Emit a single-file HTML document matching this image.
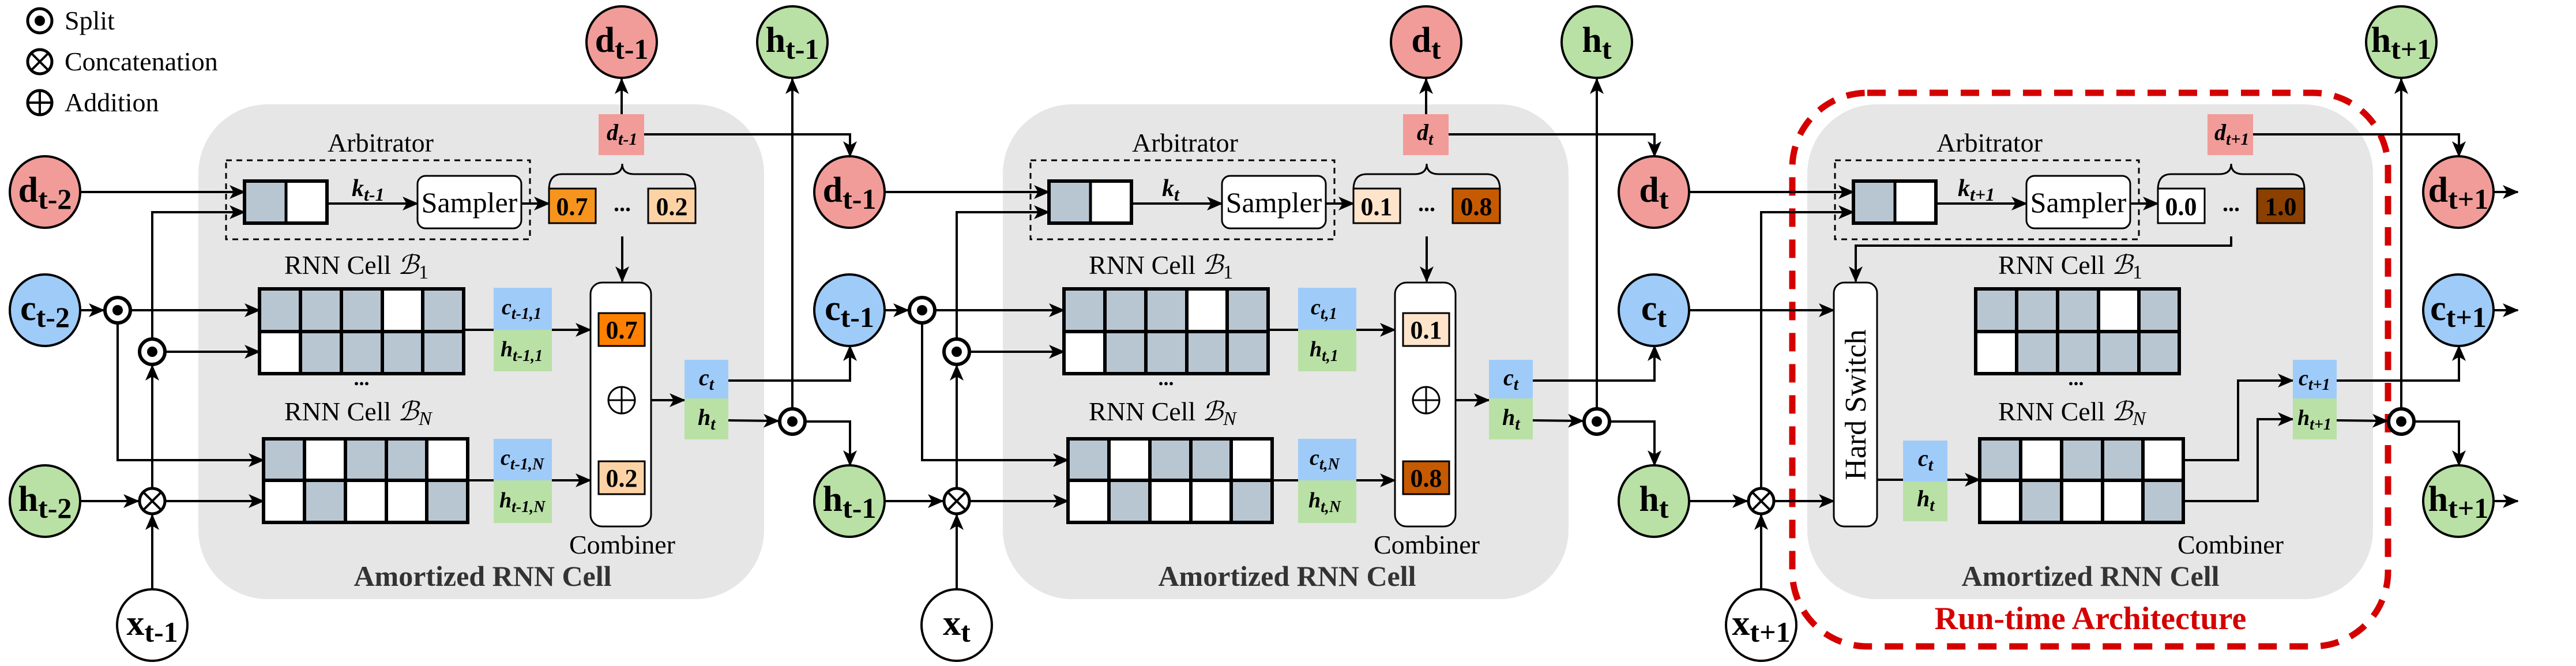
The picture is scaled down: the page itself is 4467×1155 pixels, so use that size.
<!DOCTYPE html>
<html><head><meta charset="utf-8"><style>
html,body{margin:0;padding:0;background:#fff;}
svg{display:block;}
svg, svg text, svg tspan{font-family:"Liberation Serif","DejaVu Serif",serif;}
</style></head><body>
<svg width="4467" height="1155" viewBox="0 0 4467 1155" xmlns="http://www.w3.org/2000/svg" font-family="Liberation Serif, DejaVu Serif, serif">
<defs>
<marker id="a" markerUnits="userSpaceOnUse" markerWidth="28" markerHeight="24" refX="26" refY="12" orient="auto">
<path d="M0,0 L28,12 L0,24 L7,12 z" fill="#000"/></marker>
</defs>
<g fill="none" stroke="#000" stroke-width="4">
<rect x="344" y="181" width="981" height="858" rx="120" fill="#e6e6e6" stroke="none"/>
<rect x="1739" y="181" width="981" height="858" rx="120" fill="#e6e6e6" stroke="none"/>
<rect x="3134" y="181" width="981" height="858" rx="120" fill="#e6e6e6" stroke="none"/>
<rect x="3108" y="161" width="1033" height="960" rx="130" stroke="#d40000" stroke-width="11" stroke-dasharray="32 22"/>
</g>

<g stroke="#000" stroke-width="5" fill="#fff">
<circle cx="69" cy="36" r="21"/><circle cx="69" cy="36" r="9" fill="#000" stroke="none"/>
<circle cx="69" cy="107" r="21"/><path d="M54,92 L84,122 M84,92 L54,122" stroke-width="4"/>
<circle cx="69" cy="178" r="21"/><path d="M48,178 L90,178 M69,157 L69,199" stroke-width="4"/>
</g>
<g font-size="46" fill="#000">
<text x="112" y="51">Split</text>
<text x="112" y="122">Concatenation</text>
<text x="112" y="193">Addition</text>
</g>

<!-- PANEL 1 -->
<g>
<g fill="none" stroke="#000" stroke-width="4">
<rect x="392" y="278" width="527" height="137" stroke-width="3" stroke-dasharray="10 8"/>
<line x1="567" y1="353" x2="724" y2="353" marker-end="url(#a)"/>
<line x1="904" y1="353" x2="952" y2="353" marker-end="url(#a)"/>
<path d="M952,329 Q952,302 975,302 L1058,302 Q1079,302 1079,284 Q1079,302 1100,302 L1183,302 Q1206,302 1206,329" stroke-width="3"/>
<line x1="1078" y1="198" x2="1078" y2="137" marker-end="url(#a)"/>
<polyline points="1117,233 1474,233 1474,271" marker-end="url(#a)"/>
<line x1="1374" y1="707" x2="1374" y2="137" marker-end="url(#a)"/>
<line x1="1079" y1="410" x2="1079" y2="488" marker-end="url(#a)"/>
<line x1="804" y1="572" x2="1024" y2="572" marker-end="url(#a)"/>
<line x1="811" y1="833" x2="1024" y2="833" marker-end="url(#a)"/>
<line x1="1078" y1="600" x2="1078" y2="671" marker-end="url(#a)"/>
<line x1="1078" y1="800" x2="1078" y2="717" marker-end="url(#a)"/>
<line x1="1101" y1="694" x2="1187" y2="694" marker-end="url(#a)"/>
<polyline points="1263,660 1474,660 1474,600" marker-end="url(#a)"/>
<line x1="1263" y1="729" x2="1350" y2="730" marker-end="url(#a)"/>
<polyline points="1398,731 1474,731 1474,807" marker-end="url(#a)"/>
<line x1="139" y1="333" x2="424" y2="333" marker-end="url(#a)"/>
<line x1="139" y1="538" x2="180" y2="538" marker-end="url(#a)"/>
<line x1="228" y1="538" x2="450" y2="538" marker-end="url(#a)"/>
<polyline points="204,562 204,798 457,798" marker-end="url(#a)"/>
<line x1="139" y1="869" x2="240" y2="869" marker-end="url(#a)"/>
<line x1="288" y1="869" x2="457" y2="869" marker-end="url(#a)"/>
<line x1="264" y1="1022" x2="264" y2="893" marker-end="url(#a)"/>
<line x1="264" y1="845" x2="264" y2="634" marker-end="url(#a)"/>
<line x1="288" y1="610" x2="450" y2="610" marker-end="url(#a)"/>
<polyline points="264,586 264,368 424,368" marker-end="url(#a)"/>
</g>
<rect x="424" y="314" width="72" height="73" fill="#b8c6d2"/>
<rect x="496" y="314" width="71" height="73" fill="#fff"/>
<rect x="424" y="314" width="143" height="73" fill="none" stroke="#000" stroke-width="6"/>
<line x1="496" y1="314" x2="496" y2="387" stroke="#000" stroke-width="5"/>
<rect x="724" y="305" width="180" height="91" rx="14" fill="#fff" stroke="#000" stroke-width="3"/>
<text x="814" y="368" font-size="50" text-anchor="middle">Sampler</text>
<text x="660" y="263" font-size="46" text-anchor="middle">Arbitrator</text>
<text x="610" y="340" font-size="42" font-style="italic" font-weight="bold">k<tspan font-size="32" dy="8">t-1</tspan></text>
<rect x="952" y="327" width="81" height="60" fill="#f7941d" stroke="#000" stroke-width="3"/>
<text x="992" y="373" font-size="44" font-weight="bold" text-anchor="middle">0.7</text>
<text x="1079" y="366" font-size="40" font-weight="bold" text-anchor="middle">...</text>
<rect x="1124" y="327" width="82" height="60" fill="#fdd3a6" stroke="#000" stroke-width="3"/>
<text x="1165" y="373" font-size="44" font-weight="bold" text-anchor="middle">0.2</text>
<rect x="1038" y="198" width="79" height="71" fill="#f19c99"/>
<text x="1052" y="243" font-size="40" font-style="italic" font-weight="bold">d<tspan font-size="30" dy="8">t-1</tspan></text>
<rect x="1024" y="490" width="105" height="423" rx="20" fill="#fff" stroke="#000" stroke-width="3"/>
<rect x="1038" y="543" width="80" height="57" fill="#ff7f00" stroke="#000" stroke-width="3"/>
<text x="1078" y="587" font-size="44" font-weight="bold" text-anchor="middle">0.7</text>
<rect x="1038" y="800" width="80" height="57" fill="#fdd3a6" stroke="#000" stroke-width="3"/>
<text x="1078" y="844" font-size="44" font-weight="bold" text-anchor="middle">0.2</text>
<circle cx="1078" cy="694" r="23" fill="none" stroke="#000" stroke-width="3"/>
<path d="M1055,694 L1101,694 M1078,671 L1078,717" stroke="#000" stroke-width="3"/>
<text x="1079" y="960" font-size="46" text-anchor="middle">Combiner</text>
<text x="837" y="1016" font-size="50" font-weight="bold" text-anchor="middle" fill="#333">Amortized RNN Cell</text>
<rect x="1187" y="624" width="76" height="67" fill="#9fcbf9"/>
<rect x="1187" y="691" width="76" height="71" fill="#b9e0a5"/>
<text x="1212" y="668" font-size="40" font-style="italic" font-weight="bold">c<tspan font-size="30" dy="8">t</tspan></text>
<text x="1210" y="737" font-size="40" font-style="italic" font-weight="bold">h<tspan font-size="30" dy="8">t</tspan></text>
<text x="493" y="475" font-size="46">RNN Cell <tspan font-style="italic" font-family="DejaVu Serif,serif">ℬ</tspan><tspan font-size="34" dy="8">1</tspan></text>
<text x="627" y="668" font-size="36" font-weight="bold" text-anchor="middle">...</text>
<text x="493" y="729" font-size="46">RNN Cell <tspan font-style="italic" font-family="DejaVu Serif,serif">ℬ</tspan><tspan font-size="34" dy="8" font-style="italic">N</tspan></text>
<g stroke="#000" stroke-width="6">
<rect x="450" y="501" width="71" height="74" fill="#b8c6d2"/><rect x="521" y="501" width="71" height="74" fill="#b8c6d2"/><rect x="592" y="501" width="71" height="74" fill="#b8c6d2"/><rect x="663" y="501" width="70" height="74" fill="#fff"/><rect x="733" y="501" width="71" height="74" fill="#b8c6d2"/>
<rect x="450" y="575" width="71" height="73" fill="#fff"/><rect x="521" y="575" width="71" height="73" fill="#b8c6d2"/><rect x="592" y="575" width="71" height="73" fill="#b8c6d2"/><rect x="663" y="575" width="70" height="73" fill="#b8c6d2"/><rect x="733" y="575" width="71" height="73" fill="#b8c6d2"/>
<rect x="457" y="761" width="71" height="72" fill="#b8c6d2"/><rect x="528" y="761" width="71" height="72" fill="#fff"/><rect x="599" y="761" width="71" height="72" fill="#b8c6d2"/><rect x="670" y="761" width="70" height="72" fill="#b8c6d2"/><rect x="740" y="761" width="71" height="72" fill="#fff"/>
<rect x="457" y="833" width="71" height="73" fill="#fff"/><rect x="528" y="833" width="71" height="73" fill="#b8c6d2"/><rect x="599" y="833" width="71" height="73" fill="#fff"/><rect x="670" y="833" width="70" height="73" fill="#fff"/><rect x="740" y="833" width="71" height="73" fill="#b8c6d2"/>
</g>
<rect x="856" y="499" width="101" height="73" fill="#9fcbf9"/>
<rect x="856" y="572" width="101" height="72" fill="#b9e0a5"/>
<rect x="856" y="761" width="101" height="72" fill="#9fcbf9"/>
<rect x="856" y="833" width="101" height="74" fill="#b9e0a5"/>
<g font-size="38" font-style="italic" font-weight="bold">
<text x="870" y="545">c<tspan font-size="28" dy="8">t-1,1</tspan></text>
<text x="868" y="618">h<tspan font-size="28" dy="8">t-1,1</tspan></text>
<text x="868" y="806">c<tspan font-size="28" dy="8">t-1,N</tspan></text>
<text x="866" y="880">h<tspan font-size="28" dy="8">t-1,N</tspan></text>
</g>
<g stroke="#000" stroke-width="6" fill="#fff">
<circle cx="204" cy="538" r="22"/><circle cx="264" cy="610" r="22"/><circle cx="1374" cy="731" r="22"/>
<circle cx="264" cy="869" r="22" stroke-width="5"/>
</g>
<g fill="#000"><circle cx="204" cy="538" r="9"/><circle cx="264" cy="610" r="9"/><circle cx="1374" cy="731" r="9"/></g>
<path d="M249,854 L279,884 M279,854 L249,884" stroke="#000" stroke-width="4"/>
</g>

<!-- PANEL 2 -->
<g transform="translate(1395,0)">
<g fill="none" stroke="#000" stroke-width="4">
<rect x="392" y="278" width="527" height="137" stroke-width="3" stroke-dasharray="10 8"/>
<line x1="567" y1="353" x2="724" y2="353" marker-end="url(#a)"/>
<line x1="904" y1="353" x2="952" y2="353" marker-end="url(#a)"/>
<path d="M952,329 Q952,302 975,302 L1058,302 Q1079,302 1079,284 Q1079,302 1100,302 L1183,302 Q1206,302 1206,329" stroke-width="3"/>
<line x1="1078" y1="198" x2="1078" y2="137" marker-end="url(#a)"/>
<polyline points="1117,233 1474,233 1474,271" marker-end="url(#a)"/>
<line x1="1374" y1="707" x2="1374" y2="137" marker-end="url(#a)"/>
<line x1="1079" y1="410" x2="1079" y2="488" marker-end="url(#a)"/>
<line x1="804" y1="572" x2="1024" y2="572" marker-end="url(#a)"/>
<line x1="811" y1="833" x2="1024" y2="833" marker-end="url(#a)"/>
<line x1="1078" y1="600" x2="1078" y2="671" marker-end="url(#a)"/>
<line x1="1078" y1="800" x2="1078" y2="717" marker-end="url(#a)"/>
<line x1="1101" y1="694" x2="1187" y2="694" marker-end="url(#a)"/>
<polyline points="1263,660 1474,660 1474,600" marker-end="url(#a)"/>
<line x1="1263" y1="729" x2="1350" y2="730" marker-end="url(#a)"/>
<polyline points="1398,731 1474,731 1474,807" marker-end="url(#a)"/>
<line x1="139" y1="333" x2="424" y2="333" marker-end="url(#a)"/>
<line x1="139" y1="538" x2="180" y2="538" marker-end="url(#a)"/>
<line x1="228" y1="538" x2="450" y2="538" marker-end="url(#a)"/>
<polyline points="204,562 204,798 457,798" marker-end="url(#a)"/>
<line x1="139" y1="869" x2="240" y2="869" marker-end="url(#a)"/>
<line x1="288" y1="869" x2="457" y2="869" marker-end="url(#a)"/>
<line x1="264" y1="1022" x2="264" y2="893" marker-end="url(#a)"/>
<line x1="264" y1="845" x2="264" y2="634" marker-end="url(#a)"/>
<line x1="288" y1="610" x2="450" y2="610" marker-end="url(#a)"/>
<polyline points="264,586 264,368 424,368" marker-end="url(#a)"/>
</g>
<rect x="424" y="314" width="72" height="73" fill="#b8c6d2"/>
<rect x="496" y="314" width="71" height="73" fill="#fff"/>
<rect x="424" y="314" width="143" height="73" fill="none" stroke="#000" stroke-width="6"/>
<line x1="496" y1="314" x2="496" y2="387" stroke="#000" stroke-width="5"/>
<rect x="724" y="305" width="180" height="91" rx="14" fill="#fff" stroke="#000" stroke-width="3"/>
<text x="814" y="368" font-size="50" text-anchor="middle">Sampler</text>
<text x="660" y="263" font-size="46" text-anchor="middle">Arbitrator</text>
<text x="620" y="340" font-size="42" font-style="italic" font-weight="bold">k<tspan font-size="32" dy="8">t</tspan></text>
<rect x="952" y="327" width="81" height="60" fill="#fde4cb" stroke="#000" stroke-width="3"/>
<text x="992" y="373" font-size="44" font-weight="bold" text-anchor="middle">0.1</text>
<text x="1079" y="366" font-size="40" font-weight="bold" text-anchor="middle">...</text>
<rect x="1124" y="327" width="82" height="60" fill="#c65a00" stroke="#000" stroke-width="3"/>
<text x="1165" y="373" font-size="44" font-weight="bold" text-anchor="middle">0.8</text>
<rect x="1038" y="198" width="79" height="71" fill="#f19c99"/>
<text x="1062" y="243" font-size="40" font-style="italic" font-weight="bold">d<tspan font-size="30" dy="8">t</tspan></text>
<rect x="1024" y="490" width="105" height="423" rx="20" fill="#fff" stroke="#000" stroke-width="3"/>
<rect x="1038" y="543" width="80" height="57" fill="#fde4cb" stroke="#000" stroke-width="3"/>
<text x="1078" y="587" font-size="44" font-weight="bold" text-anchor="middle">0.1</text>
<rect x="1038" y="800" width="80" height="57" fill="#c65a00" stroke="#000" stroke-width="3"/>
<text x="1078" y="844" font-size="44" font-weight="bold" text-anchor="middle">0.8</text>
<circle cx="1078" cy="694" r="23" fill="none" stroke="#000" stroke-width="3"/>
<path d="M1055,694 L1101,694 M1078,671 L1078,717" stroke="#000" stroke-width="3"/>
<text x="1079" y="960" font-size="46" text-anchor="middle">Combiner</text>
<text x="837" y="1016" font-size="50" font-weight="bold" text-anchor="middle" fill="#333">Amortized RNN Cell</text>
<rect x="1187" y="624" width="76" height="67" fill="#9fcbf9"/>
<rect x="1187" y="691" width="76" height="71" fill="#b9e0a5"/>
<text x="1212" y="668" font-size="40" font-style="italic" font-weight="bold">c<tspan font-size="30" dy="8">t</tspan></text>
<text x="1210" y="737" font-size="40" font-style="italic" font-weight="bold">h<tspan font-size="30" dy="8">t</tspan></text>
<text x="493" y="475" font-size="46">RNN Cell <tspan font-style="italic" font-family="DejaVu Serif,serif">ℬ</tspan><tspan font-size="34" dy="8">1</tspan></text>
<text x="627" y="668" font-size="36" font-weight="bold" text-anchor="middle">...</text>
<text x="493" y="729" font-size="46">RNN Cell <tspan font-style="italic" font-family="DejaVu Serif,serif">ℬ</tspan><tspan font-size="34" dy="8" font-style="italic">N</tspan></text>
<g stroke="#000" stroke-width="6">
<rect x="450" y="501" width="71" height="74" fill="#b8c6d2"/><rect x="521" y="501" width="71" height="74" fill="#b8c6d2"/><rect x="592" y="501" width="71" height="74" fill="#b8c6d2"/><rect x="663" y="501" width="70" height="74" fill="#fff"/><rect x="733" y="501" width="71" height="74" fill="#b8c6d2"/>
<rect x="450" y="575" width="71" height="73" fill="#fff"/><rect x="521" y="575" width="71" height="73" fill="#b8c6d2"/><rect x="592" y="575" width="71" height="73" fill="#b8c6d2"/><rect x="663" y="575" width="70" height="73" fill="#b8c6d2"/><rect x="733" y="575" width="71" height="73" fill="#b8c6d2"/>
<rect x="457" y="761" width="71" height="72" fill="#b8c6d2"/><rect x="528" y="761" width="71" height="72" fill="#fff"/><rect x="599" y="761" width="71" height="72" fill="#b8c6d2"/><rect x="670" y="761" width="70" height="72" fill="#b8c6d2"/><rect x="740" y="761" width="71" height="72" fill="#fff"/>
<rect x="457" y="833" width="71" height="73" fill="#fff"/><rect x="528" y="833" width="71" height="73" fill="#b8c6d2"/><rect x="599" y="833" width="71" height="73" fill="#fff"/><rect x="670" y="833" width="70" height="73" fill="#fff"/><rect x="740" y="833" width="71" height="73" fill="#b8c6d2"/>
</g>
<rect x="856" y="499" width="101" height="73" fill="#9fcbf9"/>
<rect x="856" y="572" width="101" height="72" fill="#b9e0a5"/>
<rect x="856" y="761" width="101" height="72" fill="#9fcbf9"/>
<rect x="856" y="833" width="101" height="74" fill="#b9e0a5"/>
<g font-size="38" font-style="italic" font-weight="bold">
<text x="878" y="545">c<tspan font-size="28" dy="8">t,1</tspan></text>
<text x="876" y="618">h<tspan font-size="28" dy="8">t,1</tspan></text>
<text x="876" y="806">c<tspan font-size="28" dy="8">t,N</tspan></text>
<text x="874" y="880">h<tspan font-size="28" dy="8">t,N</tspan></text>
</g>
<g stroke="#000" stroke-width="6" fill="#fff">
<circle cx="204" cy="538" r="22"/><circle cx="264" cy="610" r="22"/><circle cx="1374" cy="731" r="22"/>
<circle cx="264" cy="869" r="22" stroke-width="5"/>
</g>
<g fill="#000"><circle cx="204" cy="538" r="9"/><circle cx="264" cy="610" r="9"/><circle cx="1374" cy="731" r="9"/></g>
<path d="M249,854 L279,884 M279,854 L249,884" stroke="#000" stroke-width="4"/>
</g>

<!-- PANEL 3 -->
<g transform="translate(2790,0)">
<g fill="none" stroke="#000" stroke-width="4">
<rect x="392" y="278" width="527" height="137" stroke-width="3" stroke-dasharray="10 8"/>
<line x1="567" y1="353" x2="724" y2="353" marker-end="url(#a)"/>
<line x1="904" y1="353" x2="952" y2="353" marker-end="url(#a)"/>
<path d="M952,329 Q952,302 975,302 L1058,302 Q1079,302 1079,284 Q1079,302 1100,302 L1183,302 Q1206,302 1206,329" stroke-width="3"/>
<polyline points="1117,233 1474,233 1474,271" marker-end="url(#a)"/>
<line x1="1374" y1="707" x2="1374" y2="137" marker-end="url(#a)"/>
<polyline points="1079,410 1079,426 428,426 428,488" marker-end="url(#a)"/>
<line x1="139" y1="333" x2="424" y2="333" marker-end="url(#a)"/>
<line x1="139" y1="538" x2="390" y2="538" marker-end="url(#a)"/>
<line x1="139" y1="869" x2="240" y2="869" marker-end="url(#a)"/>
<line x1="288" y1="869" x2="390" y2="869" marker-end="url(#a)"/>
<line x1="264" y1="1022" x2="264" y2="893" marker-end="url(#a)"/>
<polyline points="264,845 264,368 424,368" marker-end="url(#a)"/>
<line x1="465" y1="832" x2="643" y2="832" marker-end="url(#a)"/>
<polyline points="996,798 1091,798 1091,660 1186,660" marker-end="url(#a)"/>
<polyline points="996,869 1125,869 1125,727 1186,727" marker-end="url(#a)"/>
<polyline points="1262,660 1474,660 1474,600" marker-end="url(#a)"/>
<line x1="1262" y1="729" x2="1350" y2="730" marker-end="url(#a)"/>
<polyline points="1398,731 1474,731 1474,807" marker-end="url(#a)"/>
<line x1="1535" y1="333" x2="1576" y2="333" marker-end="url(#a)"/>
<line x1="1535" y1="538" x2="1576" y2="538" marker-end="url(#a)"/>
<line x1="1535" y1="869" x2="1576" y2="869" marker-end="url(#a)"/>
</g>
<rect x="424" y="314" width="72" height="73" fill="#b8c6d2"/>
<rect x="496" y="314" width="71" height="73" fill="#fff"/>
<rect x="424" y="314" width="143" height="73" fill="none" stroke="#000" stroke-width="6"/>
<line x1="496" y1="314" x2="496" y2="387" stroke="#000" stroke-width="5"/>
<rect x="724" y="305" width="180" height="91" rx="14" fill="#fff" stroke="#000" stroke-width="3"/>
<text x="814" y="368" font-size="50" text-anchor="middle">Sampler</text>
<text x="660" y="263" font-size="46" text-anchor="middle">Arbitrator</text>
<text x="605" y="340" font-size="42" font-style="italic" font-weight="bold">k<tspan font-size="32" dy="8">t+1</tspan></text>
<rect x="952" y="327" width="81" height="60" fill="#fff" stroke="#000" stroke-width="3"/>
<text x="992" y="373" font-size="44" font-weight="bold" text-anchor="middle">0.0</text>
<text x="1079" y="366" font-size="40" font-weight="bold" text-anchor="middle">...</text>
<rect x="1124" y="327" width="82" height="60" fill="#8b4000" stroke="#000" stroke-width="3"/>
<text x="1165" y="373" font-size="44" font-weight="bold" text-anchor="middle">1.0</text>
<rect x="1038" y="198" width="79" height="71" fill="#f19c99"/>
<text x="1050" y="243" font-size="40" font-style="italic" font-weight="bold">d<tspan font-size="30" dy="8">t+1</tspan></text>
<rect x="390" y="490" width="75" height="423" rx="18" fill="#fff" stroke="#000" stroke-width="3"/>
<text transform="translate(445,702) rotate(-90)" font-size="52" text-anchor="middle">Hard Switch</text>
<rect x="510" y="764" width="77" height="71" fill="#9fcbf9"/>
<rect x="510" y="835" width="77" height="69" fill="#b9e0a5"/>
<text x="536" y="808" font-size="40" font-style="italic" font-weight="bold">c<tspan font-size="30" dy="8">t</tspan></text>
<text x="534" y="878" font-size="40" font-style="italic" font-weight="bold">h<tspan font-size="30" dy="8">t</tspan></text>
<text x="1078" y="960" font-size="46" text-anchor="middle">Combiner</text>
<text x="835" y="1016" font-size="50" font-weight="bold" text-anchor="middle" fill="#333">Amortized RNN Cell</text>
<text x="835" y="1091" font-size="56" font-weight="bold" text-anchor="middle" fill="#d40000">Run-time Architecture</text>
<rect x="1186" y="624" width="76" height="67" fill="#9fcbf9"/>
<rect x="1186" y="691" width="76" height="71" fill="#b9e0a5"/>
<text x="1196" y="668" font-size="38" font-style="italic" font-weight="bold">c<tspan font-size="28" dy="8">t+1</tspan></text>
<text x="1194" y="737" font-size="38" font-style="italic" font-weight="bold">h<tspan font-size="28" dy="8">t+1</tspan></text>
<text x="675" y="475" font-size="46">RNN Cell <tspan font-style="italic" font-family="DejaVu Serif,serif">ℬ</tspan><tspan font-size="34" dy="8">1</tspan></text>
<text x="810" y="668" font-size="36" font-weight="bold" text-anchor="middle">...</text>
<text x="675" y="729" font-size="46">RNN Cell <tspan font-style="italic" font-family="DejaVu Serif,serif">ℬ</tspan><tspan font-size="34" dy="8" font-style="italic">N</tspan></text>
<g stroke="#000" stroke-width="6">
<rect x="636" y="501" width="71" height="74" fill="#b8c6d2"/><rect x="707" y="501" width="71" height="74" fill="#b8c6d2"/><rect x="778" y="501" width="71" height="74" fill="#b8c6d2"/><rect x="849" y="501" width="70" height="74" fill="#fff"/><rect x="919" y="501" width="70" height="74" fill="#b8c6d2"/>
<rect x="636" y="575" width="71" height="73" fill="#fff"/><rect x="707" y="575" width="71" height="73" fill="#b8c6d2"/><rect x="778" y="575" width="71" height="73" fill="#b8c6d2"/><rect x="849" y="575" width="70" height="73" fill="#b8c6d2"/><rect x="919" y="575" width="70" height="73" fill="#b8c6d2"/>
<rect x="643" y="761" width="71" height="72" fill="#b8c6d2"/><rect x="714" y="761" width="71" height="72" fill="#fff"/><rect x="785" y="761" width="71" height="72" fill="#b8c6d2"/><rect x="856" y="761" width="70" height="72" fill="#b8c6d2"/><rect x="926" y="761" width="70" height="72" fill="#fff"/>
<rect x="643" y="833" width="71" height="73" fill="#fff"/><rect x="714" y="833" width="71" height="73" fill="#b8c6d2"/><rect x="785" y="833" width="71" height="73" fill="#fff"/><rect x="856" y="833" width="70" height="73" fill="#fff"/><rect x="926" y="833" width="70" height="73" fill="#b8c6d2"/>
</g>
<g stroke="#000" stroke-width="6" fill="#fff">
<circle cx="1374" cy="731" r="22"/>
<circle cx="264" cy="869" r="22" stroke-width="5"/>
</g>
<circle cx="1374" cy="731" r="9" fill="#000"/>
<path d="M249,854 L279,884 M279,854 L249,884" stroke="#000" stroke-width="4"/>
</g>

<!-- NODES -->
<g stroke="#000" stroke-width="4">
<ellipse cx="78" cy="333" rx="61" ry="62" fill="#f19c99"/>
<ellipse cx="78" cy="538" rx="61" ry="62" fill="#9fcbf9"/>
<ellipse cx="78" cy="869" rx="61" ry="62" fill="#b9e0a5"/>
<ellipse cx="264" cy="1084" rx="61" ry="62" fill="#fff"/>
<ellipse cx="1078" cy="73" rx="61" ry="62" fill="#f19c99"/>
<ellipse cx="1374" cy="73" rx="61" ry="62" fill="#b9e0a5"/>
<ellipse cx="1473" cy="333" rx="61" ry="62" fill="#f19c99"/>
<ellipse cx="1473" cy="538" rx="61" ry="62" fill="#9fcbf9"/>
<ellipse cx="1473" cy="869" rx="61" ry="62" fill="#b9e0a5"/>
<ellipse cx="1659" cy="1084" rx="61" ry="62" fill="#fff"/>
<ellipse cx="2473" cy="73" rx="61" ry="62" fill="#f19c99"/>
<ellipse cx="2769" cy="73" rx="61" ry="62" fill="#b9e0a5"/>
<ellipse cx="2868" cy="333" rx="61" ry="62" fill="#f19c99"/>
<ellipse cx="2868" cy="538" rx="61" ry="62" fill="#9fcbf9"/>
<ellipse cx="2868" cy="869" rx="61" ry="62" fill="#b9e0a5"/>
<ellipse cx="3054" cy="1084" rx="61" ry="62" fill="#fff"/>
<ellipse cx="4164" cy="73" rx="61" ry="62" fill="#b9e0a5"/>
<ellipse cx="4263" cy="333" rx="61" ry="62" fill="#f19c99"/>
<ellipse cx="4263" cy="538" rx="61" ry="62" fill="#9fcbf9"/>
<ellipse cx="4263" cy="869" rx="61" ry="62" fill="#b9e0a5"/>
</g>
<g font-size="62" font-weight="bold" text-anchor="middle">
<text x="78" y="350">d<tspan font-size="50" dy="12">t-2</tspan></text>
<text x="78" y="555">c<tspan font-size="50" dy="12">t-2</tspan></text>
<text x="78" y="886">h<tspan font-size="50" dy="12">t-2</tspan></text>
<text x="264" y="1101">x<tspan font-size="50" dy="12">t-1</tspan></text>
<text x="1078" y="90">d<tspan font-size="50" dy="12">t-1</tspan></text>
<text x="1374" y="90">h<tspan font-size="50" dy="12">t-1</tspan></text>
<text x="1473" y="350">d<tspan font-size="50" dy="12">t-1</tspan></text>
<text x="1473" y="555">c<tspan font-size="50" dy="12">t-1</tspan></text>
<text x="1473" y="886">h<tspan font-size="50" dy="12">t-1</tspan></text>
<text x="1659" y="1101">x<tspan font-size="50" dy="12">t</tspan></text>
<text x="2473" y="90">d<tspan font-size="50" dy="12">t</tspan></text>
<text x="2769" y="90">h<tspan font-size="50" dy="12">t</tspan></text>
<text x="2868" y="350">d<tspan font-size="50" dy="12">t</tspan></text>
<text x="2868" y="555">c<tspan font-size="50" dy="12">t</tspan></text>
<text x="2868" y="886">h<tspan font-size="50" dy="12">t</tspan></text>
<text x="3054" y="1101">x<tspan font-size="50" dy="12">t+1</tspan></text>
<text x="4164" y="90">h<tspan font-size="50" dy="12">t+1</tspan></text>
<text x="4263" y="350">d<tspan font-size="50" dy="12">t+1</tspan></text>
<text x="4263" y="555">c<tspan font-size="50" dy="12">t+1</tspan></text>
<text x="4263" y="886">h<tspan font-size="50" dy="12">t+1</tspan></text>
</g>
</svg>
</body></html>
